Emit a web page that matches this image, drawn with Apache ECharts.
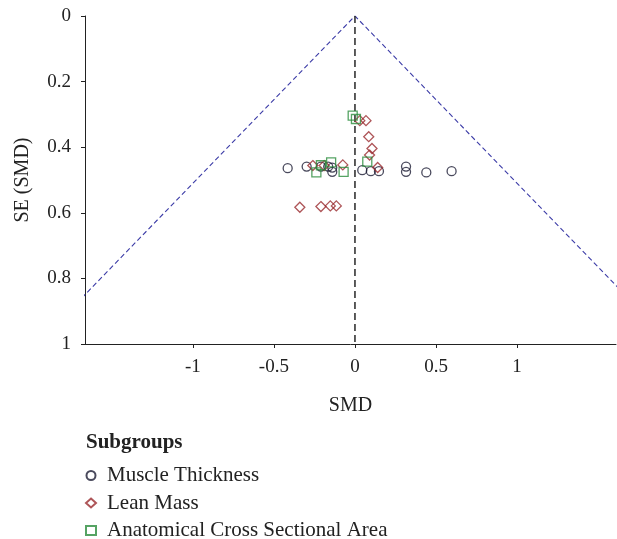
<!DOCTYPE html>
<html><head><meta charset="utf-8">
<script src="https://cdn.jsdelivr.net/npm/echarts@6/dist/echarts.min.js"></script>
<style>html,body{margin:0;padding:0;background:#fff}#c{width:617px;height:539px}</style>
</head><body><div id="c"></div>
<script>
// Muscle Thickness: [SMD, SE]
const muscleThickness = [
  [-0.415,0.464],[-0.298,0.459],[-0.21,0.459],[-0.165,0.459],[-0.14,0.462],[-0.14,0.475],
  [0.045,0.470],[0.098,0.473],[0.148,0.473],[0.315,0.459],[0.315,0.475],[0.44,0.477],[0.596,0.473]
];
const leanMass = [
  [0.03,0.319],[0.068,0.319],[0.085,0.368],[0.105,0.404],[0.09,0.424],[0.14,0.462],
  [-0.075,0.454],[-0.26,0.456],[-0.19,0.456],
  [-0.34,0.583],[-0.21,0.581],[-0.152,0.579],[-0.115,0.579]
];
const acsa = [
  [-0.014,0.304],[0.006,0.314],[0.076,0.444],[-0.21,0.455],[-0.147,0.446],[-0.238,0.477],[-0.07,0.475]
];
const xTicks = [-1,-0.5,0,0.5,1];
const funnelSE = [1, 0, 1];
const funnelSide = [-1, 0, 1];
const seriesNames = ['Muscle Thickness','Lean Mass','Anatomical Cross Sectional Area'];

const FONT = 'Liberation Serif';
const chart = echarts.init(document.getElementById('c'), null, {renderer:'canvas'});
const funnel = funnelSE.map((se,i)=>[funnelSide[i]*1.96*se, se]);
const xMin = -1.665, xMax = 1.61;
const tickStyle = {color:'#222', width:1};
chart.setOption({
  animation:false,
  grid:{left:85, top:16, right:1, bottom:195, containLabel:false},
  title:{text:'Subgroups', left:86, top:432, padding:0, textStyle:{fontFamily:FONT, fontWeight:'bold', fontSize:21, color:'#222'}},
  legend:{
    orient:'vertical', left:85, top:465, width:400, height:120, padding:0, itemGap:6.5, itemWidth:10, itemHeight:9,
    data:seriesNames,
    textStyle:{fontFamily:FONT, fontSize:21, color:'#222', padding:[0,0,0,6]}
  },
  graphic:[{type:'text', x:23, y:180, rotation:Math.PI/2,
    style:{text:'SE (SMD)', fontFamily:FONT, fontSize:20, fill:'#222', align:'center', verticalAlign:'middle'}}],
  xAxis:{
    type:'value', min:xMin, max:xMax, position:'bottom',
    name:'SMD', nameLocation:'middle', nameGap:52,
    nameTextStyle:{fontFamily:FONT, fontSize:20, color:'#222'},
    axisLine:{show:true, onZero:false, lineStyle:{color:'#222', width:1}},
    axisTick:{show:true, length:4, customValues:xTicks, lineStyle:tickStyle},
    axisLabel:{show:true, customValues:xTicks, margin:14, fontFamily:FONT, fontSize:19, color:'#222',
      formatter:v=>String(v)},
    splitLine:{show:false}
  },
  yAxis:{
    type:'value', min:0, max:1, interval:0.2, inverse:true, position:'left',
    axisLine:{show:true, onZero:false, lineStyle:{color:'#222', width:1}},
    axisTick:{show:true, length:4, lineStyle:tickStyle},
    axisLabel:{margin:14, fontFamily:FONT, fontSize:19, color:'#222', formatter:v=>String(+v.toFixed(1))},
    splitLine:{show:false}
  },
  series:[
    {type:'line', data:funnel, symbol:'none', silent:true, clip:true,
     lineStyle:{color:'#3a3aa6', width:1.1, type:[5,3]}, z:1},
    {type:'line', data:[[0,0],[0,1]], symbol:'none', silent:true,
     lineStyle:{color:'#333', width:1.6, type:[7,4]}, z:1},
    {name:seriesNames[0], type:'scatter', data:muscleThickness, symbol:'circle', symbolSize:9,
     itemStyle:{color:'rgba(0,0,0,0)', borderColor:'#1d1d35', borderWidth:1.3}, z:3},
    {name:seriesNames[1], type:'scatter', data:leanMass, symbol:'diamond', symbolSize:[10,10],
     itemStyle:{color:'rgba(0,0,0,0)', borderColor:'#9a2a2e', borderWidth:1.3}, z:3},
    {name:seriesNames[2], type:'scatter', data:acsa, symbol:'rect', symbolSize:9,
     itemStyle:{color:'rgba(0,0,0,0)', borderColor:'#2a8c3c', borderWidth:1.3}, z:3}
  ]
});
</script></body></html>
